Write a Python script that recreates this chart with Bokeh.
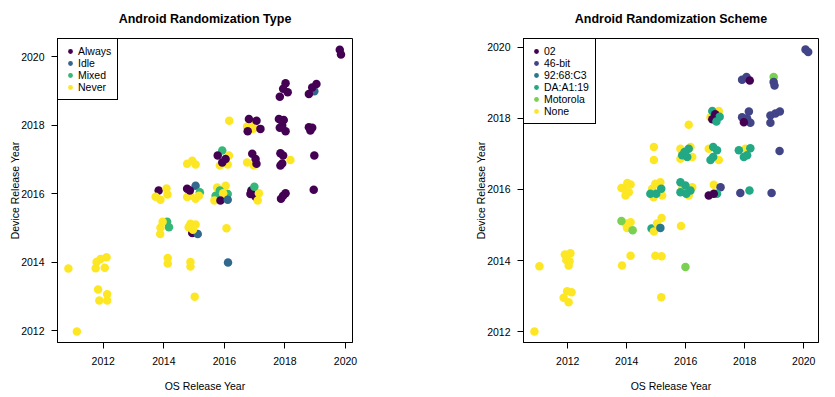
from bokeh.plotting import figure
from bokeh.models import ColumnDataSource, Range1d, FixedTicker, Legend, LegendItem
from bokeh.layouts import row
from bokeh.embed import file_html
from bokeh.resources import INLINE
from bokeh.transform import factor_cmap

FONT = "Liberation Sans"

year_ticks = [2012, 2014, 2016, 2018, 2020]

type_levels = ["Always", "Idle", "Mixed", "Never"]
type_colors = ["#440154", "#31688E", "#35B779", "#FDE725"]

scheme_levels = ["02", "46-bit", "92:68:C3", "DA:A1:19", "Motorola", "None"]
scheme_colors = ["#440154", "#414487", "#2A788E", "#22A884", "#7AD151", "#FDE725"]

# ---- Left panel: Android Randomization Type (jittered years) ----
type_os_year = [
    2010.85, 2011.13, 2011.78, 2011.75, 2011.91, 2012.05, 2012.11, 2011.83, 2011.87, 2012.13,
    2012.13, 2014.13, 2014.13, 2014.88, 2014.88, 2015.02, 2016.12, 2016.07,
    2014.11, 2014.17, 2013.88, 2013.89, 2013.96,
    2014.94, 2015.12, 2014.82, 2014.88, 2015.05, 2014.96,
    2013.83, 2013.73, 2013.89, 2014.09, 2014.12,
    2015.05, 2015.19, 2014.77, 2015.05, 2014.88, 2015.16, 2014.77, 2014.86,
    2015.76, 2016.04, 2015.71, 2016.11, 2015.85, 2015.96, 2015.67, 2015.87, 2016.11,
    2016.86, 2016.89, 2017.03, 2017.14, 2017.10, 2016.99,
    2017.94, 2018.02, 2017.87, 2018.95, 2018.97,
    2017.85, 2017.94, 2017.91, 2017.85, 2018.18,
    2016.75, 2016.97, 2016.92, 2017.03, 2017.06,
    2015.93, 2016.15, 2016.11, 2015.85, 2015.78, 2015.93, 2016.04,
    2014.77, 2014.94, 2015.05,
    2016.16,
    2016.75, 2016.95, 2016.97, 2016.81, 2017.06, 2016.77, 2017.19,
    2017.80, 2017.96, 2017.83, 2018.02, 2017.91,
    2018.79, 2018.90, 2018.84,
    2018.02, 2017.94, 2018.09, 2017.83,
    2018.97, 2019.04, 2018.90, 2018.79,
    2019.81, 2019.85,
]
type_device_year = [
    2013.81, 2011.97, 2014.00, 2013.82, 2014.09, 2013.83, 2014.14, 2013.20, 2012.88, 2013.06,
    2012.88, 2014.12, 2013.96, 2014.00, 2013.87, 2012.99, 2013.99, 2014.99,
    2015.18, 2015.02, 2014.82, 2015.00, 2015.18,
    2014.85, 2014.82, 2015.02, 2015.12, 2015.10, 2014.94,
    2016.09, 2015.91, 2015.82, 2016.15, 2015.97,
    2016.23, 2016.04, 2015.90, 2015.85, 2015.94, 2015.94, 2016.14, 2016.09,
    2016.18, 2016.23, 2015.94, 2015.99, 2016.09, 2016.01, 2015.80, 2015.80, 2015.82,
    2015.99, 2016.09, 2015.91, 2016.01, 2015.80, 2016.20,
    2015.94, 2016.01, 2015.85, 2016.11, 2017.11,
    2017.18, 2017.11, 2016.88, 2016.82, 2016.98,
    2016.91, 2016.82, 2017.16, 2017.01, 2016.87,
    2017.26, 2017.11, 2016.85, 2016.82, 2017.11, 2016.91, 2017.01,
    2016.87, 2016.96, 2016.85,
    2018.13,
    2017.96, 2017.89, 2018.03, 2018.18, 2018.13, 2017.82, 2017.89,
    2018.18, 2018.15, 2017.92, 2017.82, 2017.99,
    2017.94, 2017.92, 2017.84,
    2019.22, 2019.06, 2018.96, 2018.83,
    2018.99, 2019.20, 2019.10, 2018.91,
    2020.20, 2020.06,
]
type_label = [
    "Never", "Never", "Never", "Never", "Never", "Never", "Never", "Never", "Never", "Never",
    "Never", "Never", "Never", "Never", "Never", "Never", "Idle", "Never",
    "Mixed", "Mixed", "Never", "Never", "Never",
    "Always", "Idle", "Never", "Never", "Never", "Never",
    "Always", "Never", "Never", "Never", "Never",
    "Idle", "Mixed", "Never", "Never", "Never", "Never", "Always", "Always",
    "Never", "Never", "Mixed", "Mixed", "Mixed", "Never", "Never", "Always", "Idle",
    "Always", "Always", "Always", "Never", "Never", "Mixed",
    "Always", "Always", "Always", "Always", "Always",
    "Always", "Always", "Always", "Always", "Never",
    "Never", "Never", "Always", "Always", "Always",
    "Mixed", "Never", "Never", "Never", "Always", "Always", "Always",
    "Never", "Never", "Never",
    "Never",
    "Never", "Never", "Never", "Always", "Always", "Always", "Always",
    "Always", "Always", "Always", "Always", "Always",
    "Always", "Always", "Always",
    "Always", "Always", "Always", "Always",
    "Idle", "Always", "Always", "Always",
    "Always", "Always",
]

# ---- Right panel: Android Randomization Scheme (jittered years) ----
scheme_os_year = [
    2010.87, 2011.04, 2011.90, 2012.09, 2011.95, 2012.06, 2012.03, 2011.86, 2011.98, 2012.13,
    2012.03, 2013.84, 2014.13, 2014.97, 2015.18, 2015.17, 2015.99, 2015.84,
    2014.84, 2014.92, 2015.03, 2015.18, 2015.14,
    2013.96, 2014.13, 2014.01, 2013.82, 2014.20,
    2013.90, 2014.13, 2013.96, 2014.07, 2013.82, 2014.02,
    2014.86, 2015.14, 2014.97, 2015.20, 2014.91, 2014.80, 2015.00, 2015.17,
    2015.88, 2016.10, 2016.22, 2015.82, 2015.99, 2016.16, 2015.82, 2016.02,
    2016.95, 2017.18, 2017.06, 2016.78, 2016.95,
    2017.85, 2018.16, 2018.91,
    2014.92, 2014.92,
    2015.82, 2016.16, 2015.82, 2016.22, 2016.10, 2015.88, 2016.05, 2015.96,
    2016.78, 2017.12, 2016.93, 2017.06, 2016.93, 2016.84,
    2018.02, 2017.80, 2018.19, 2018.08, 2017.97,
    2019.18,
    2016.10,
    2016.84, 2017.12, 2016.90, 2017.00, 2017.15, 2016.90, 2017.04,
    2017.91, 2018.14, 2018.08, 2018.19, 2017.97,
    2018.87, 2019.04, 2019.19, 2018.87,
    2017.91, 2018.06, 2018.17,
    2018.98, 2018.98, 2019.01,
    2020.06, 2020.15,
]
scheme_device_year = [
    2012.01, 2013.84, 2014.17, 2014.21, 2014.02, 2013.98, 2013.86, 2012.96, 2013.14, 2013.11,
    2012.83, 2013.86, 2014.14, 2014.14, 2014.12, 2012.97, 2013.82, 2014.97,
    2014.90, 2014.82, 2015.04, 2015.20, 2014.92,
    2015.04, 2015.08, 2014.92, 2015.11, 2014.85,
    2016.02, 2016.14, 2015.83, 2015.92, 2016.04, 2016.18,
    2016.02, 2016.20, 2016.16, 2015.83, 2015.78, 2015.88, 2015.88, 2016.02,
    2016.02, 2015.83, 2016.06, 2016.20, 2016.11, 2015.97, 2015.92, 2015.88,
    2016.13, 2016.06, 2015.88, 2015.83, 2015.88,
    2015.90, 2015.97, 2015.90,
    2017.19, 2016.83,
    2017.14, 2017.19, 2016.86, 2016.91, 2017.14, 2016.96, 2016.91, 2017.05,
    2017.14, 2016.83, 2017.19, 2017.10, 2016.91, 2016.83,
    2017.14, 2017.10, 2017.16, 2016.96, 2016.91,
    2017.08,
    2017.82,
    2018.03, 2018.20, 2018.20, 2018.11, 2018.04, 2017.97, 2017.91,
    2018.03, 2018.19, 2017.99, 2017.87, 2017.89,
    2018.08, 2018.13, 2018.19, 2017.87,
    2019.08, 2019.16, 2019.06,
    2019.16, 2019.02, 2018.92,
    2019.93, 2019.86,
]
scheme_label = [
    "None", "None", "None", "None", "None", "None", "None", "None", "None", "None",
    "None", "None", "None", "None", "None", "None", "Motorola", "None",
    "DA:A1:19", "None", "None", "None", "92:68:C3",
    "None", "None", "None", "Motorola", "Motorola",
    "None", "None", "None", "None", "None", "None",
    "None", "None", "None", "None", "None", "DA:A1:19", "DA:A1:19", "DA:A1:19",
    "None", "None", "None", "DA:A1:19", "DA:A1:19", "DA:A1:19", "DA:A1:19", "DA:A1:19",
    "None", "46-bit", "DA:A1:19", "02", "02",
    "46-bit", "DA:A1:19", "46-bit",
    "None", "None",
    "None", "None", "None", "None", "DA:A1:19", "DA:A1:19", "DA:A1:19", "DA:A1:19",
    "None", "None", "DA:A1:19", "DA:A1:19", "DA:A1:19", "DA:A1:19",
    "None", "DA:A1:19", "DA:A1:19", "DA:A1:19", "DA:A1:19",
    "46-bit",
    "None",
    "None", "None", "DA:A1:19", "02", "DA:A1:19", "02", "DA:A1:19",
    "46-bit", "46-bit", "46-bit", "46-bit", "02",
    "46-bit", "46-bit", "46-bit", "46-bit",
    "46-bit", "46-bit", "02",
    "Motorola", "46-bit", "46-bit",
    "46-bit", "46-bit",
]


def make_panel(title, xs, ys, labels, levels, colors, xr, yr, bl, br):
    p = figure(width=None, height=None, frame_width=295, frame_height=304, title=title,
               x_range=Range1d(*xr), y_range=Range1d(*yr),
               min_border_left=bl, min_border_right=br,
               min_border_top=38, min_border_bottom=52,
               output_backend="svg", toolbar_location=None)
    p.title.align = "center"
    p.title.vertical_align = "top"
    p.title.text_font = FONT
    p.title.text_font_size = "12.5px"
    p.title.text_font_style = "bold"
    p.title.text_color = "black"
    p.title.standoff = 21

    p.xgrid.visible = False
    p.ygrid.visible = False
    p.outline_line_color = "black"
    p.outline_line_alpha = 1
    p.outline_line_width = 1
    p.background_fill_color = "white"
    p.border_fill_color = "white"

    for ax in (p.xaxis[0], p.yaxis[0]):
        ax.ticker = FixedTicker(ticks=year_ticks)
        ax.minor_tick_line_color = None
        ax.major_tick_in = 0
        ax.major_tick_out = 6
        ax.major_tick_line_color = "black"
        ax.axis_line_color = "black"
        ax.major_label_text_font = FONT
        ax.major_label_text_font_size = "10.5px"
        ax.major_label_text_color = "black"
        ax.axis_label_text_font = FONT
        ax.axis_label_text_font_size = "10.5px"
        ax.axis_label_text_font_style = "normal"
        ax.axis_label_text_color = "black"
    p.xaxis.axis_label = "OS Release Year"
    p.yaxis.axis_label = "Device Release Year"
    p.xaxis.major_label_standoff = 8
    p.xaxis.axis_label_standoff = 12
    p.yaxis.major_label_standoff = 7
    p.yaxis.axis_label_standoff = -3

    src = ColumnDataSource(dict(x=xs, y=ys, label=labels))
    r = p.scatter("x", "y", source=src, size=8.5,
                  fill_color=factor_cmap("label", colors, levels),
                  line_color=None)

    items = []
    for lev in levels:
        items.append(LegendItem(label=lev, renderers=[r], index=labels.index(lev)))
    leg = Legend(items=items, location="top_left", margin=0, padding=6,
                 spacing=-2, glyph_width=12, glyph_height=12, label_height=12,
                 label_standoff=2, label_text_font=FONT,
                 label_text_font_size="10.5px", label_text_color="black",
                 label_text_line_height=1.0,
                 border_line_color="black", border_line_width=1,
                 border_line_alpha=1, background_fill_alpha=1)
    p.add_layout(leg)
    return p


p1 = make_panel("Android Randomization Type", type_os_year, type_device_year, type_label,
                type_levels, type_colors, (2010.49, 2020.23), (2011.65, 2020.53), 57, 60)
p2 = make_panel("Android Randomization Scheme", scheme_os_year, scheme_device_year, scheme_label,
                scheme_levels, scheme_colors, (2010.50, 2020.50), (2011.70, 2020.24), 111, 12)

layout = row(p1, p2)
open("out.html", "w").write(file_html(layout, INLINE))
